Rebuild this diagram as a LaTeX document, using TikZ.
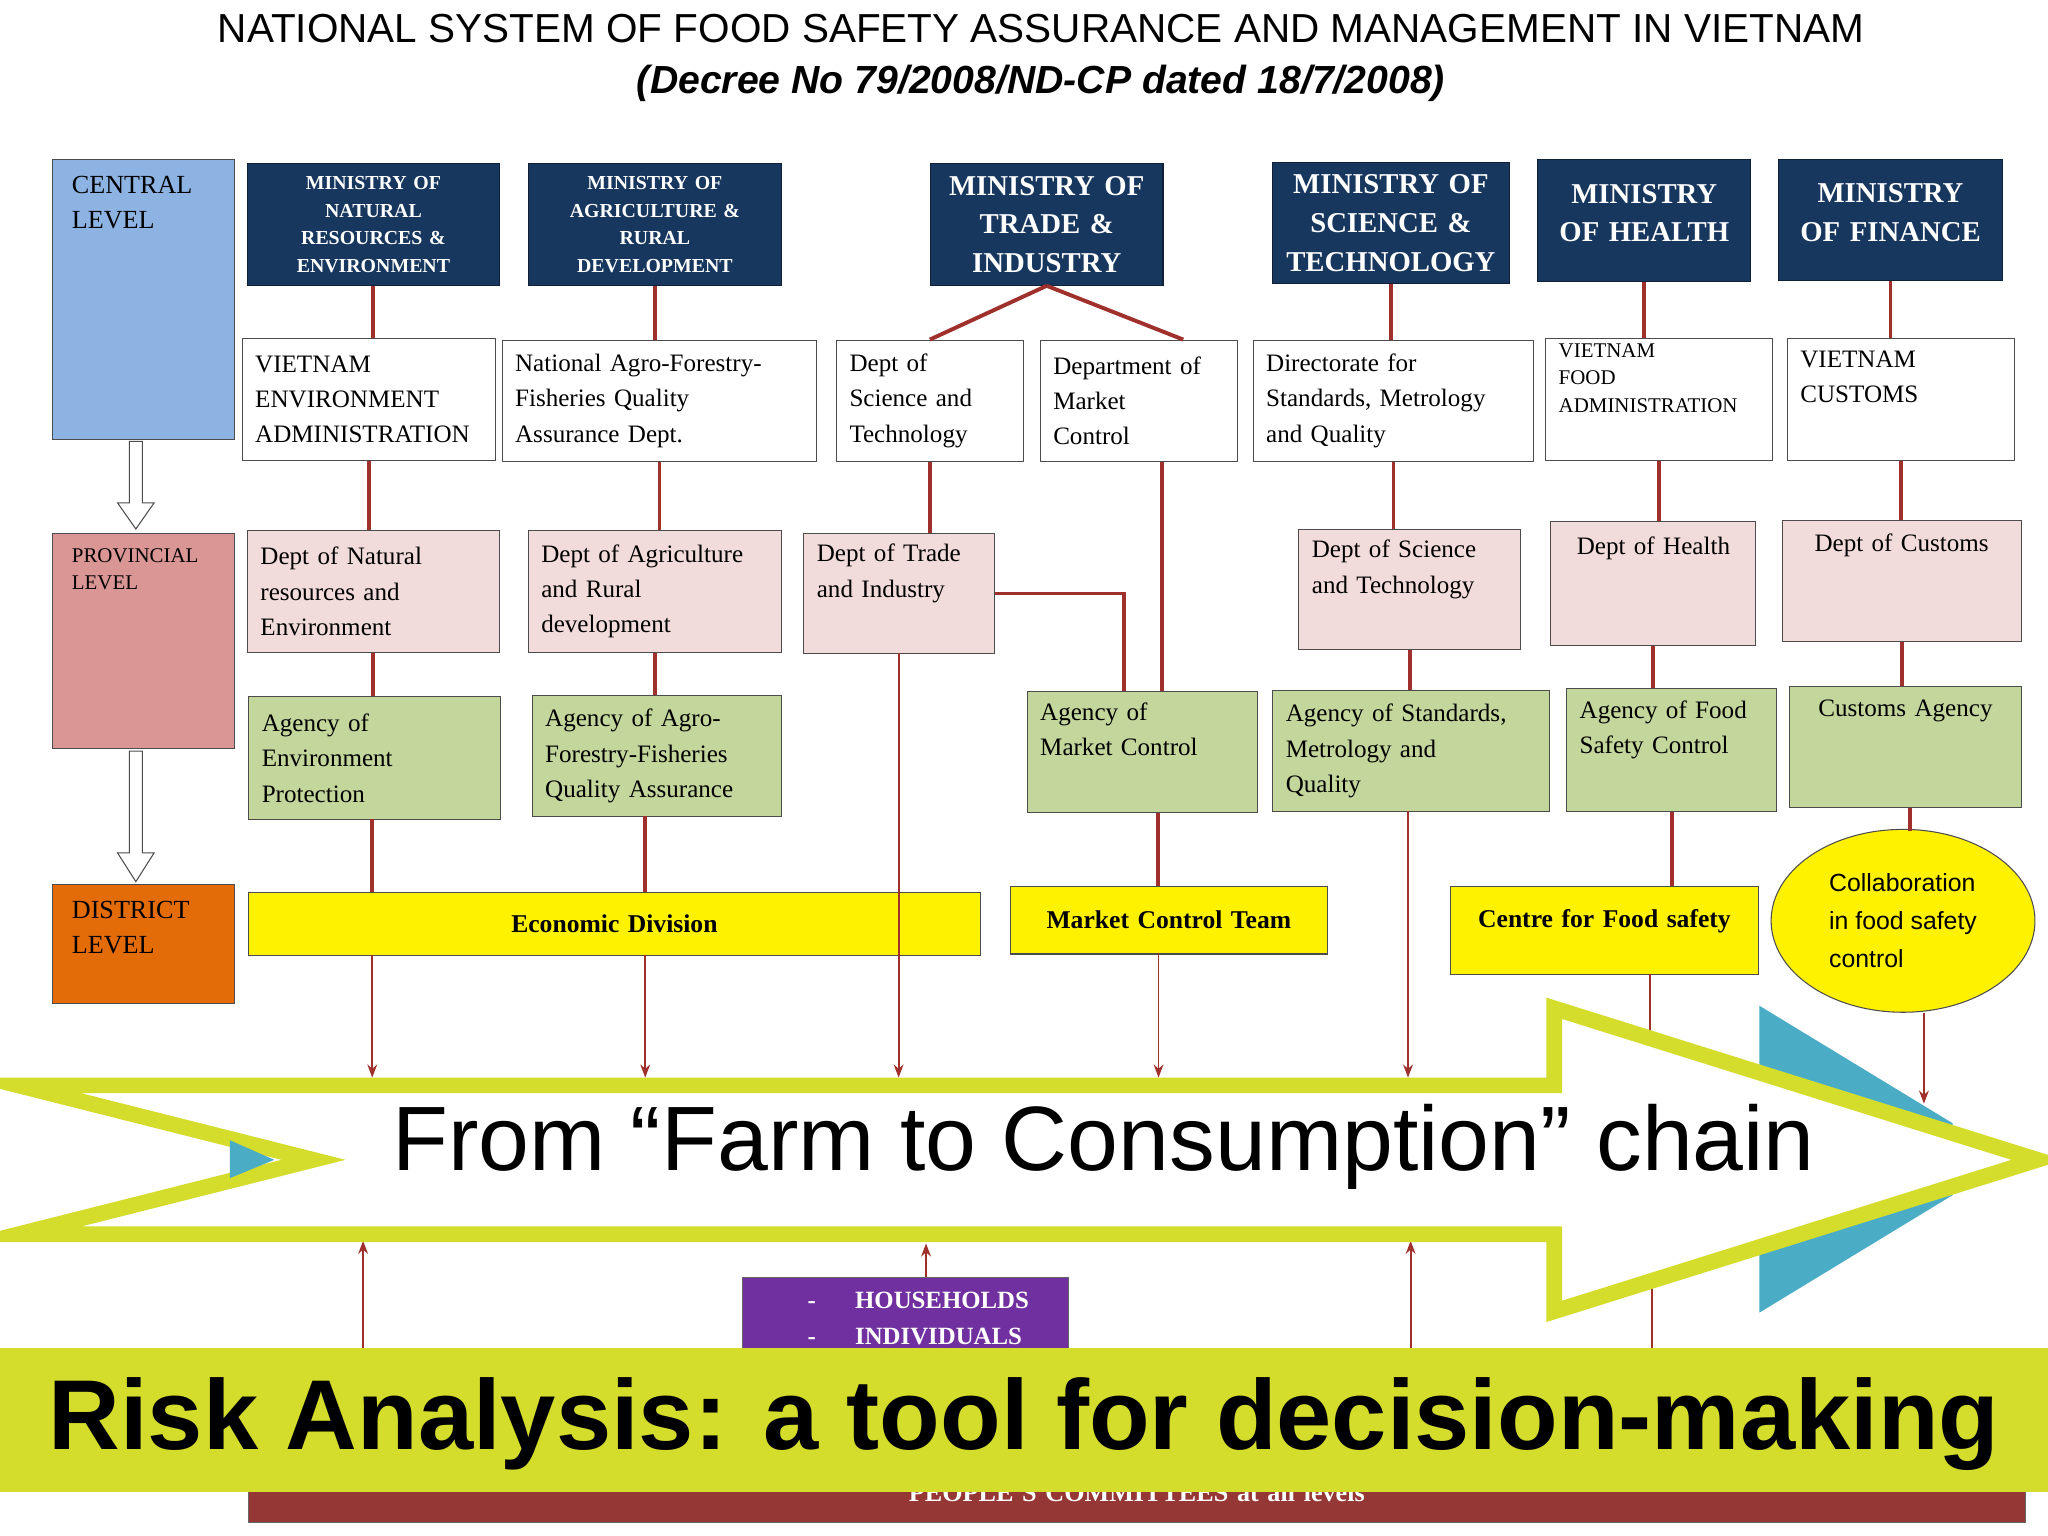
\documentclass[tikz,border=0pt]{standalone}
\usepackage{fontspec}
\setmainfont{Liberation Serif}
\setsansfont{Liberation Sans}
\usetikzlibrary{arrows.meta,shapes.geometric}
\definecolor{navy}{HTML}{17375E}
\definecolor{pinkb}{HTML}{F2DCDB}
\definecolor{greenb}{HTML}{C3D69B}
\definecolor{cl}{HTML}{8DB3E2}
\definecolor{pl}{HTML}{D99694}
\definecolor{dl}{HTML}{E36C09}
\definecolor{ln}{HTML}{A0302C}
\definecolor{ylg}{HTML}{D4DC2C}
\definecolor{teal}{HTML}{4BACC6}
\definecolor{purp}{HTML}{7030A0}
\definecolor{brick}{HTML}{953735}
\newcommand{\bx}[7]{%
\pgfmathsetmacro{\bw}{(#4-#2)*0.5}\pgfmathsetmacro{\bh}{(#5-#3)*0.5}\pgfmathsetmacro{\tw}{(#4-#2)*0.5-10}%
\node[#6,draw,anchor=north west,minimum width=\bw pt,minimum height=\bh pt,text width=\tw pt,inner sep=0pt] (#1) at (#2,#3) {#7};}
\newcommand{\gap}[1]{\\[#1]\mbox{}}
\tikzset{
 mini/.style={fill=navy,draw=navy!60!black,text=white,font=\bfseries\fontsize{11}{14.8}\selectfont,align=center},
 minis/.style={fill=navy,draw=navy!60!black,text=white,font=\bfseries\fontsize{7.6}{10.5}\selectfont,align=center},
 wb/.style={fill=white,draw=black!70,font=\fontsize{9.6}{13.5}\selectfont,align=left},
 pb/.style={fill=pinkb,draw=black!70,font=\fontsize{9.6}{13.5}\selectfont,align=left},
 gb/.style={fill=greenb,draw=black!70,font=\fontsize{9.6}{13.5}\selectfont,align=left},
 yb/.style={fill=yellow,draw=black!70,font=\bfseries\fontsize{9.8}{13}\selectfont,align=center},
 lv/.style={draw=black!70,font=\fontsize{10}{13.5}\selectfont,align=left},
 cn/.style={draw=ln,line width=1.5pt},
 ca/.style={draw=ln,line width=0.7pt,-{Stealth[length=5pt]}},
}
\begin{document}
\begin{tikzpicture}[x=0.5pt,y=-0.5pt]
\useasboundingbox (0,0) rectangle (1568,1176);
\fill[white] (0,0) rectangle (1568,1176);
\node[font=\sffamily\fontsize{15.5}{18}\selectfont] (title) at (797,22) {NATIONAL SYSTEM OF FOOD SAFETY ASSURANCE AND MANAGEMENT IN VIETNAM};
\node[font=\sffamily\bfseries\itshape\fontsize{15}{18}\selectfont] (sub) at (797,64) {(Decree No 79/2008/ND-CP dated 18/7/2008)};
% levels
\node[lv,fill=cl,anchor=north west,minimum width=69.5pt,minimum height=107pt,inner sep=0pt] (cen) at (40,122) {};
\node[anchor=north west,font=\fontsize{10}{13.5}\selectfont,align=left] (cent) at (48,128) {CENTRAL\\LEVEL};
\node[lv,fill=pl,anchor=north west,minimum width=69.5pt,minimum height=82.5pt,inner sep=0pt] (pro) at (40,408) {};
\node[anchor=north west,font=\fontsize{8}{10.5}\selectfont,align=left] (prot) at (48,413) {PROVINCIAL\\LEVEL};
\node[lv,fill=dl,anchor=north west,minimum width=69.5pt,minimum height=45.5pt,inner sep=0pt] (dis) at (40,677) {};
\node[anchor=north west,font=\fontsize{10}{13.5}\selectfont,align=left] (dist) at (48,683) {DISTRICT\\LEVEL};
\draw[black!70,fill=white] (99,338)--(109,338)--(109,385)--(118,385)--(104,405)--(90,385)--(99,385)--cycle;
\draw[black!70,fill=white] (99,575)--(109,575)--(109,653)--(118,653)--(104,675)--(90,653)--(99,653)--cycle;
% ministries
\bx{m1}{189}{125}{382}{218}{minis}{MINISTRY OF\\NATURAL\\RESOURCES \&\\ENVIRONMENT}
\bx{m2}{404}{125}{598}{218}{minis}{MINISTRY OF\\AGRICULTURE \&\\RURAL\\DEVELOPMENT}
\bx{m3}{712}{125}{890}{218}{mini}{MINISTRY OF\\TRADE \&\\INDUSTRY}
\bx{m4}{974}{124}{1155}{217}{mini}{MINISTRY OF\\SCIENCE \&\\TECHNOLOGY}
\bx{m5}{1177}{122}{1340}{215}{mini}{MINISTRY\\OF HEALTH\gap{-9pt}}
\bx{m6}{1361}{122}{1533}{214}{mini}{MINISTRY\\OF FINANCE\gap{-9pt}}
% row 2
\bx{w1}{185}{259}{379}{352}{wb}{VIETNAM\\ENVIRONMENT\\ADMINISTRATION}
\bx{w2}{384}{260}{625}{353}{wb}{National Agro-Forestry-\\Fisheries Quality\\Assurance Dept.}
\bx{w3}{640}{260}{783}{353}{wb}{Dept of\\Science and\\Technology}
\bx{w4}{796}{260}{947}{353}{wb}{Department of\\Market\\Control}
\bx{w5}{959}{260}{1174}{353}{wb}{Directorate for\\Standards, Metrology\\and Quality}
\bx{w6}{1183}{259}{1357}{352}{wb,font=\fontsize{8}{10.5}\selectfont}{VIETNAM\\FOOD\\ADMINISTRATION\gap{6pt}}
\bx{w7}{1368}{259}{1542}{352}{wb}{VIETNAM\\CUSTOMS\gap{4pt}}
% row 3
\bx{p1}{189}{406}{382}{499}{pb}{Dept of Natural\\resources and\\Environment}
\bx{p2}{404}{406}{598}{499}{pb}{Dept of Agriculture\\and Rural\\development}
\bx{p3}{615}{408}{761}{500}{pb}{Dept of Trade\\and Industry\gap{4pt}}
\bx{p4}{994}{405}{1164}{497}{pb}{Dept of Science\\and Technology\gap{4pt}}
\bx{p5}{1187}{399}{1344}{494}{pb,align=center}{Dept of Health\gap{16pt}}
\bx{p6}{1364}{398}{1547}{491}{pb,align=center}{Dept of Customs\gap{16pt}}
% row 4
\bx{g1}{190}{533}{383}{627}{gb}{Agency of\\Environment\\Protection}
\bx{g2}{407}{532}{598}{625}{gb}{Agency of Agro-\\Forestry-Fisheries\\Quality Assurance}
\bx{g3}{786}{529}{962}{622}{gb}{Agency of\\Market Control\gap{4pt}}
\bx{g4}{974}{528}{1186}{621}{gb}{Agency of Standards,\\Metrology and\\Quality}
\bx{g5}{1199}{527}{1360}{621}{gb}{Agency of Food\\Safety Control\gap{4pt}}
\bx{g6}{1370}{525}{1547}{618}{gb,align=center}{Customs Agency\gap{16pt}}
% yellow
\bx{y1}{190}{683}{750}{731}{yb}{Economic Division}
\bx{y2}{773}{678}{1016}{730}{yb}{Market Control Team}
\bx{y3}{1110}{678}{1346}{746}{yb}{Centre for Food safety\\[-4pt]\mbox{}}
\node[ellipse,draw=black!70,fill=yellow,minimum width=101pt,minimum height=70pt,inner sep=0pt,font=\sffamily\fontsize{9.5}{14.5}\selectfont,align=left] (el) at (1457,705) {Collaboration\\in food safety\\control};
% connectors
\foreach \a/\b in {m1/w1,w1/p1,p1/g1,m2/w2,w2/p2,p2/g2,m4/w5,w5/p4,p4/g4,m5/w6,w6/p5,p5/g5,m6/w7,w7/p6,p6/g6,w3/p3,g5/y3}
  \draw[cn] (\a.south) -- (\a.south |- \b.north);
\draw[cn] (285,627) -- (285,683);
\draw[cn] (494,625) -- (494,683);
\draw[cn] (m3.south) -- (w3.north);
\draw[cn] (m3.south) -- ([xshift=17pt]w4.north);
\draw[cn] ([xshift=9pt]w4.south) -- ([xshift=9pt]w4.south |- g3.north);
\draw[cn] (p3.east) -| ([xshift=-7pt]g3.north);
\draw[cn] ([xshift=6pt]g3.south) -- ([xshift=6pt]g3.south |- y2.north);
\draw[cn] (g6.south -| 1462,0) -- (1462,636);
% lines to big arrow
\coordinate (t1) at (285,825); \coordinate (t2) at (494,825); \coordinate (t3) at (688,825);
\coordinate (t4) at (887,825); \coordinate (t5) at (1078,825); \coordinate (t6) at (1263,830); \coordinate (t7) at (1473,845);
\draw[ca] (285,731) -- (t1);
\draw[ca] (494,731) -- (t2);
\draw[ca] (688,500) -- (t3);
\draw[ca] (887,730) -- (t4);
\draw[ca] (1078,621) -- (t5);
\draw[ca] (1263,746) -- (t6);
\draw[ca] (t7 |- el.south) -- (t7);
% bottom parts
\bx{bb}{190}{1120}{1550}{1165}{fill=brick,draw=black!60,text=white,font=\bfseries\fontsize{10}{12}\selectfont,align=center}{PEOPLE'S COMMITTEES at all levels}
\bx{hh}{568}{978}{818}{1040}{fill=purp,draw=black!60,text=white,font=\bfseries\fontsize{9.5}{13.5}\selectfont,align=left}{\hspace*{20pt}-\hspace{15pt}HOUSEHOLDS\\\hspace*{20pt}-\hspace{15pt}INDIVIDUALS}
\coordinate (u1) at (278,950); \coordinate (u2) at (709,952); \coordinate (u3) at (1080,950); \coordinate (u4) at (1265,950);
\draw[ca] (278,1040) -- (u1);
\draw[ca] (hh.north -| u2) -- (u2);
\draw[ca] (1080,1040) -- (u3);
\draw[cn,line width=0.7pt] (1265,1040) -- (u4);
% big arrow
\fill[teal] (1347,770) -- (1495,860) -- (1495,915) -- (1347,1005) -- cycle;
\draw[draw=ylg,line width=6pt,fill=white,line join=miter] (14,831) -- (1190,831) -- (1190,772) -- (1560,888) -- (1190,1004) -- (1190,945) -- (14,945) -- (240,888) -- cycle;
\fill[teal] (176,873) -- (210,888) -- (176,902) -- cycle;
\node[font=\sffamily\fontsize{35}{40}\selectfont] (ft) at (845,878) {From “Farm to Consumption” chain};
% banner
\fill[ylg] (0,1032) rectangle (1568,1142);
\node[font=\sffamily\bfseries\fontsize{38}{44}\selectfont] (ra) at (784,1090) {Risk Analysis: a tool for decision-making};
\end{tikzpicture}
\end{document}
